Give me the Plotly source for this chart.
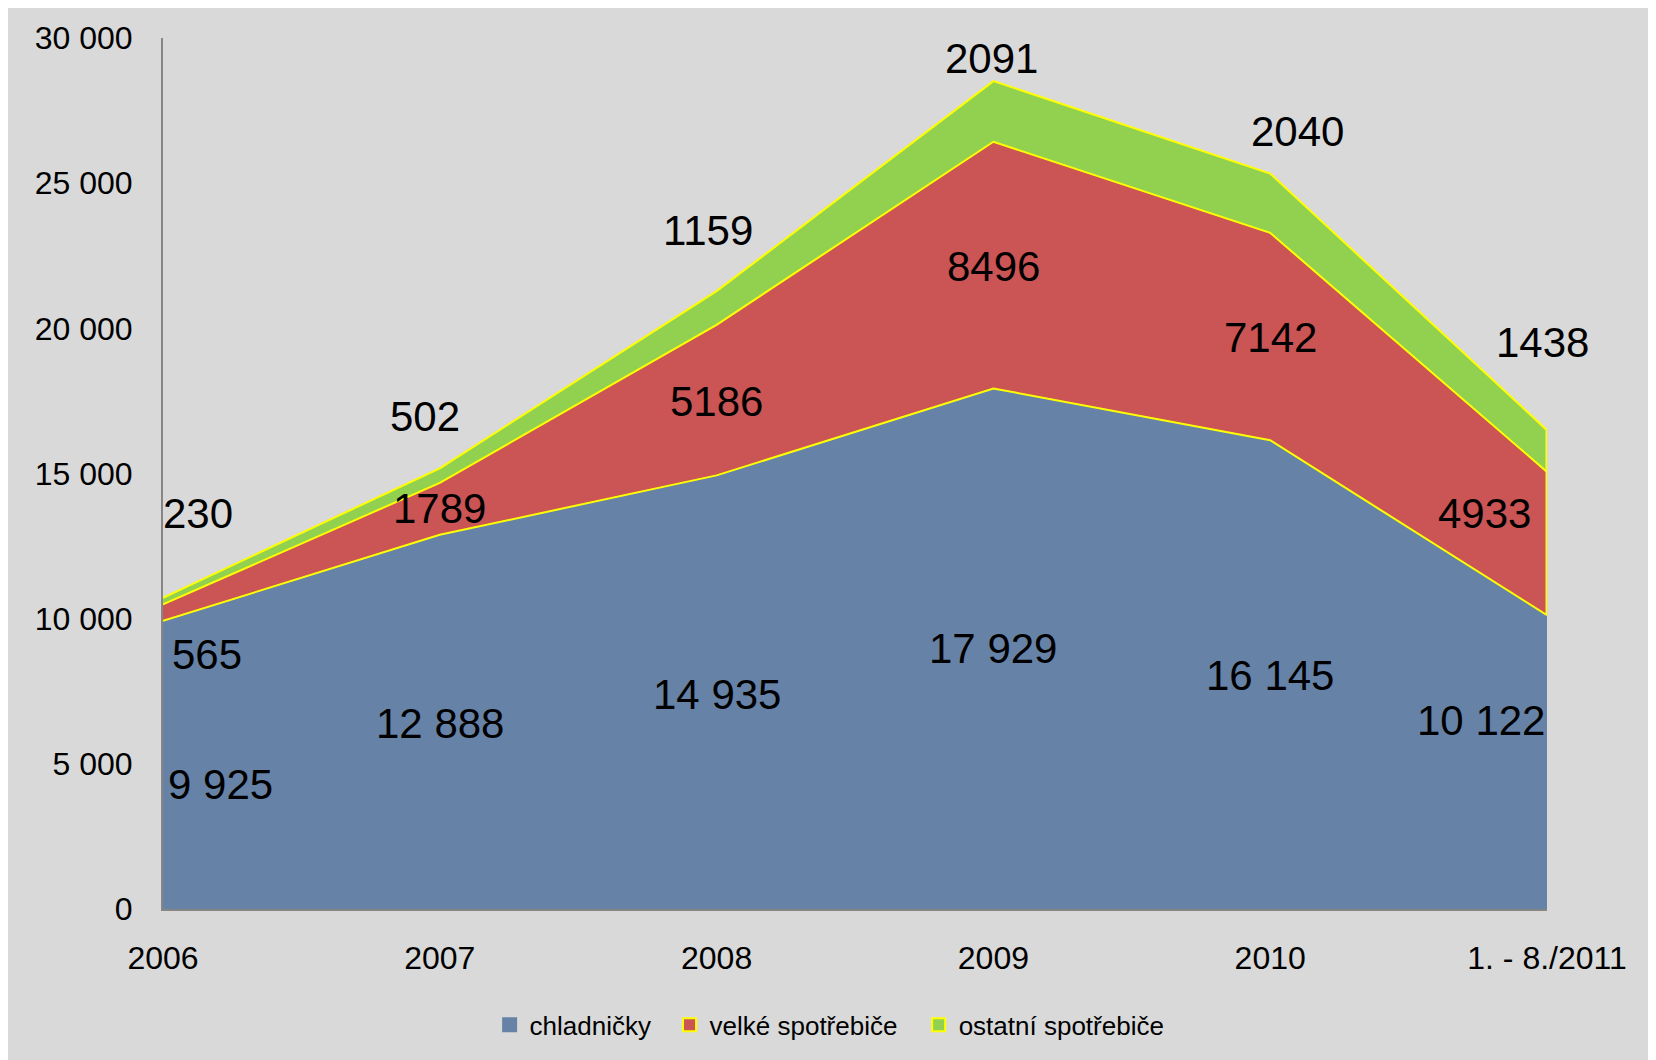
import plotly.graph_objects as go

categories = ["2006", "2007", "2008", "2009", "2010", "1. - 8./2011"]
chladnicky = [9925, 12888, 14935, 17929, 16145, 10122]
velke = [565, 1789, 5186, 8496, 7142, 4933]
ostatni = [230, 502, 1159, 2091, 2040, 1438]
series_names = ["chladničky", "velké spotřebiče", "ostatní spotřebiče"]
y_ticks = [0, 5000, 10000, 15000, 20000, 25000, 30000]

BLUE = "#6682A7"
RED = "#CB5454"
GREEN = "#92D050"
YELLOW = "#FFFF00"
BG = "#D9D9D9"
FONT = "Liberation Sans, Arial, sans-serif"

xs = list(range(len(categories)))
c1 = chladnicky
c2 = [a + b for a, b in zip(chladnicky, velke)]
c3 = [a + b for a, b in zip(c2, ostatni)]

fig = go.Figure()
for vals, col in [(chladnicky, BLUE), (velke, RED), (ostatni, GREEN)]:
    fig.add_trace(go.Scatter(
        x=xs, y=vals, mode="lines", stackgroup="one",
        fillcolor=col, line=dict(color=YELLOW, width=2),
        showlegend=False, hoverinfo="skip"))

# right-hand edge outline of the upper two areas
fig.add_trace(go.Scatter(x=[xs[-1], xs[-1]], y=[c1[-1], c3[-1]], mode="lines",
                         line=dict(color=YELLOW, width=3), showlegend=False, hoverinfo="skip"))

# legend entries (one legend box each, to reproduce the original spacing)
legend_ids = ["legend", "legend2", "legend3"]
for name, col, lc, lid in zip(series_names, [BLUE, RED, GREEN], [BLUE, YELLOW, YELLOW], legend_ids):
    fig.add_trace(go.Scatter(x=[None], y=[None], mode="markers", name=name, legend=lid,
                             marker=dict(symbol="square", size=13, color=col,
                                         line=dict(color=lc, width=2))))

def fmt_space(v):
    return f"{v:,}".replace(",", " ")

# label shifts (pixels) to mimic original placement
sh_c = [(57, -20), (0, -2), (0, -2), (0, 0), (0, -1), (-66, 42)]
sh_v = [(44, -42), (0, 0), (0, -1), (0, -1), (0, -1), (-63, 30)]
sh_o = [(35, 88), (-15, 59), (-9, 78), (-2, 53), (27, 72), (-5, 109)]

ann = []
for i in xs:
    ann.append(dict(x=i, y=chladnicky[i] / 2, text=fmt_space(chladnicky[i]),
                    xshift=sh_c[i][0], yshift=sh_c[i][1]))
    ann.append(dict(x=i, y=c1[i] + velke[i] / 2, text=str(velke[i]),
                    xshift=sh_v[i][0], yshift=sh_v[i][1]))
    ann.append(dict(x=i, y=c2[i] + ostatni[i] / 2, text=str(ostatni[i]),
                    xshift=sh_o[i][0], yshift=sh_o[i][1]))
for a in ann:
    a.update(xref="x", yref="y", showarrow=False,
             font=dict(family=FONT, size=42, color="black"))

leg_common = dict(orientation="h", xanchor="left", y=-0.133, yanchor="middle",
                  font=dict(size=26, family=FONT), itemwidth=30, bgcolor="rgba(0,0,0,0)")

fig.update_layout(
    width=1648, height=1052,
    margin=dict(l=155, r=109, t=30, b=151),
    paper_bgcolor=BG, plot_bgcolor=BG,
    font=dict(family=FONT, color="black"),
    separators=", ",
    annotations=ann,
    legend=dict(x=0.236, **leg_common),
    legend2=dict(x=0.366, **leg_common),
    legend3=dict(x=0.546, **leg_common),
    xaxis=dict(range=[0, len(categories) - 1], tickmode="array", tickvals=xs, ticktext=categories,
               showgrid=False, zeroline=False, showline=True, linecolor="#868686", linewidth=2,
               ticks="outside", ticklen=20, tickcolor="rgba(0,0,0,0)",
               tickfont=dict(size=32, family=FONT)),
    yaxis=dict(range=[0, 30000], tickmode="array", tickvals=y_ticks, tickformat=",d",
               showgrid=False, zeroline=False, showline=True, linecolor="#868686", linewidth=2,
               ticks="outside", ticklen=22, tickcolor="rgba(0,0,0,0)",
               tickfont=dict(size=32, family=FONT)),
)

fig.write_html("out.html")
